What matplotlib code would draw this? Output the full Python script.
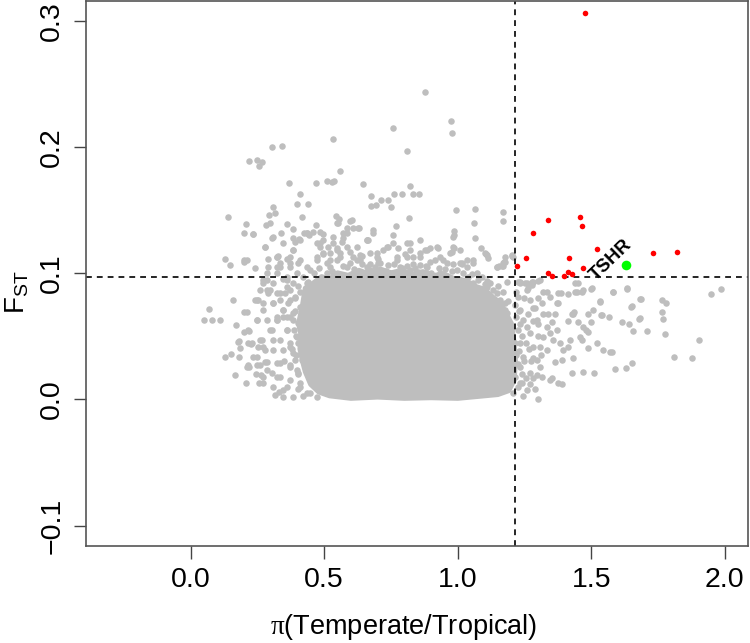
"""Fst vs pi ratio scatter (Temperate/Tropical) with TSHR highlighted."""
import numpy as np
import matplotlib
matplotlib.use("Agg")
import matplotlib.pyplot as plt

plt.rcParams["font.family"] = ["Liberation Sans", "DejaVu Sans"]
plt.rcParams["mathtext.fontset"] = "custom"
plt.rcParams["mathtext.rm"] = "Liberation Serif"

GRAY = "#BEBEBE"

# thresholds (dashed lines)
pi_cut = 1.2135
fst_cut = 0.0971

# solid core of the genome-wide cloud (outline)
core_x = [0.42, 0.43, 0.46, 0.49, 0.52, 0.55, 0.59, 0.63, 0.67, 0.71, 0.75, 0.79,
          0.83, 0.87, 0.91, 0.95, 0.99, 1.03, 1.07, 1.10, 1.13, 1.16, 1.18, 1.20,
          1.21, 1.215, 1.21, 1.19, 1.15, 1.10, 1.00, 0.90, 0.80, 0.70, 0.60, 0.52,
          0.48, 0.45, 0.43, 0.42, 0.41, 0.415, 0.405]
core_y = [0.075, 0.088, 0.092, 0.097, 0.095, 0.100, 0.098, 0.102, 0.099, 0.103, 0.100, 0.102,
          0.099, 0.101, 0.098, 0.099, 0.095, 0.094, 0.089, 0.087, 0.081, 0.076, 0.068, 0.060,
          0.045, 0.030, 0.015, 0.007, 0.004, 0.003, 0.001, 0.0015, 0.001, 0.002, 0.001, 0.003,
          0.006, 0.012, 0.022, 0.030, 0.040, 0.050, 0.060]

# background windows above the core
gray_upper = [
    (0.879, 0.2433), (0.974, 0.2205), (0.978, 0.211), (0.759, 0.2147), (0.532, 0.206), (0.809, 0.1965),
    (0.303, 0.200), (0.341, 0.2007), (0.217, 0.189), (0.250, 0.190), (0.268, 0.188), (0.257, 0.185),
    (0.368, 0.1716), (0.470, 0.1714), (0.560, 0.1807), (0.509, 0.173), (0.530, 0.172), (0.538, 0.173),
    (0.644, 0.1708), (0.821, 0.1688), (0.409, 0.1624), (0.399, 0.155), (0.440, 0.1545), (0.308, 0.152),
    (0.294, 0.146), (0.315, 0.148), (0.417, 0.1447), (0.140, 0.1447), (0.761, 0.163), (0.791, 0.1624),
    (0.833, 0.163), (0.855, 0.163), (0.675, 0.1613), (0.713, 0.158), (0.738, 0.158), (0.676, 0.153),
    (0.694, 0.154), (0.750, 0.1526), (0.995, 0.150), (1.066, 0.1505), (1.171, 0.1484), (1.171, 0.141),
    (1.060, 0.140), (1.066, 0.1276), (0.816, 0.144), (0.770, 0.137), (0.684, 0.134), (0.604, 0.142),
    (0.544, 0.145), (0.556, 0.143), (0.549, 0.140), (0.986, 0.133), (0.986, 0.130), (0.984, 0.1204),
    (0.665, 0.126), (0.494, 0.131), (1.105, 0.115), (1.112, 0.112), (1.172, 0.1088), (1.203, 0.1138),
    (1.015, 0.108), (0.208, 0.139), (0.281, 0.138), (0.296, 0.140), (0.360, 0.139), (0.469, 0.138),
    (0.201, 0.132), (0.234, 0.131), (0.338, 0.132), (0.384, 0.135), (0.303, 0.128), (0.424, 0.132),
    (0.442, 0.130), (0.278, 0.1204), (0.384, 0.118), (0.391, 0.125), (0.407, 0.127), (0.130, 0.1114),
    (0.147, 0.1067), (0.201, 0.110), (0.212, 0.110), (0.288, 0.111), (0.327, 0.1136), (0.360, 0.111),
    (0.372, 0.113), (0.241, 0.104), (0.597, 0.1415), (0.584, 0.1355), (0.609, 0.1355), (0.628, 0.1355),
    (0.572, 0.1276), (0.659, 0.126), (0.434, 0.1315), (0.459, 0.1328), (0.472, 0.1236), (0.497, 0.126),
    (0.515, 0.121), (0.409, 0.126), (0.384, 0.1276), (0.322, 0.113), (0.334, 0.105), (0.409, 0.1104),
    (0.434, 0.105), (0.472, 0.1104), (0.522, 0.105), (0.547, 0.1104), (0.584, 0.105), (0.622, 0.1104),
    (0.659, 0.105), (0.484, 0.121), (0.534, 0.1236), (0.496, 0.1157), (0.521, 0.1157), (0.546, 0.1183),
    (0.584, 0.121), (0.609, 0.113), (0.634, 0.1143), (0.671, 0.1157), (0.696, 0.113), (0.721, 0.1183),
    (0.759, 0.1236), (0.777, 0.1196), (0.809, 0.113), (0.821, 0.1183), (0.859, 0.1157), (0.884, 0.1183),
    (0.896, 0.1196), (0.927, 0.1196), (0.946, 0.1104), (0.977, 0.117), (1.008, 0.1077), (1.033, 0.105),
    (1.058, 0.1104), (0.571, 0.1315), (0.565, 0.125), (0.630, 0.1355), (0.553, 0.1394), (0.740, 0.121),
    (0.821, 0.124), (0.987, 0.1197), (1.102, 0.1157), (1.202, 0.1143), (1.156, 0.1056), (1.168, 0.1056),
    (1.086, 0.1197), (0.497, 0.1154), (0.521, 0.110), (0.559, 0.1127), (0.596, 0.1167), (0.640, 0.1132),
    (0.671, 0.1074), (0.702, 0.1114), (0.740, 0.1061), (0.771, 0.110), (0.802, 0.1154), (0.834, 0.1074),
    (0.859, 0.1127), (0.884, 0.1048), (0.915, 0.110), (0.952, 0.1035), (0.983, 0.1074), (1.015, 0.1074),
    (1.052, 0.0995), (1.077, 0.0942), (1.146, 0.1048), (1.164, 0.106), (1.183, 0.093), (1.102, 0.0916),
    (1.133, 0.0863), (1.158, 0.0784), (1.177, 0.0705), (0.46, 0.100), (0.53, 0.102), (0.61, 0.103),
    (0.66, 0.101), (0.73, 0.102), (0.79, 0.104), (0.85, 0.101), (0.90, 0.100), (0.96, 0.098),
    (1.02, 0.100), (1.09, 0.097), (1.12, 0.092), (0.44, 0.093),
    (0.434, 0.1316), (0.484, 0.1236), (0.534, 0.1289), (0.584, 0.1316), (0.622, 0.121), (0.659, 0.1263),
    (0.696, 0.1157), (0.734, 0.121), (0.771, 0.1131), (0.809, 0.1236), (0.834, 0.1131), (0.877, 0.1184),
    (0.921, 0.121), (0.959, 0.1078), (0.996, 0.1025), (1.034, 0.1104), (1.071, 0.0999), (1.108, 0.1144),
    (1.146, 0.1051), (1.177, 0.1091), (0.472, 0.1131), (0.509, 0.1078), (0.559, 0.1157), (0.597, 0.1078),
    (0.634, 0.1104), (0.671, 0.1025), (0.709, 0.1078), (0.746, 0.0999), (0.784, 0.1051), (0.821, 0.1025),
    (0.859, 0.1065), (0.896, 0.1091), (0.934, 0.1131), (0.971, 0.1157), (1.009, 0.1184), (1.058, 0.1078),
    (0.534, 0.0999), (0.597, 0.0972), (0.659, 0.0946), (0.959, 0.0972), (1.009, 0.0946), (1.058, 0.092),
    (1.108, 0.0893), (1.146, 0.084), (1.177, 0.0761), (0.497, 0.0946), (0.447, 0.1025), (0.403, 0.1078),
    (0.934, 0.0999), (0.884, 0.0999), (0.484, 0.1329), (0.547, 0.1197), (0.759, 0.1302), (0.684, 0.1316),
    (0.859, 0.1263), (0.984, 0.1289),
    (0.48, 0.104), (0.51, 0.100), (0.57, 0.106), (0.64, 0.107), (0.69, 0.105), (0.76, 0.107),
    (0.81, 0.106), (0.88, 0.106), (0.93, 0.104), (0.98, 0.102), (1.04, 0.097), (1.11, 0.094),
    (1.15, 0.090), (1.17, 0.085), (1.19, 0.078), (0.62, 0.100), (0.70, 0.108), (0.84, 0.104),
]

# background windows left of the core
gray_left = [
    (0.050, 0.0628), (0.079, 0.0628), (0.110, 0.0628), (0.070, 0.0716), (0.160, 0.0784), (0.198, 0.069),
    (0.171, 0.0586), (0.218, 0.054), (0.250, 0.0626), (0.182, 0.0464), (0.128, 0.0338), (0.152, 0.036),
    (0.181, 0.0333), (0.166, 0.0195), (0.208, 0.0127), (0.225, 0.0438), (0.245, 0.020), (0.263, 0.019),
    (0.257, 0.0127), (0.270, 0.0127), (0.315, 0.0034), (0.330, 0.0058), (0.26, 0.027), (0.218, 0.0258),
    (0.200, 0.0536), (0.216, 0.0444), (0.178, 0.0456), (0.185, 0.0404), (0.284, 0.0998), (0.272, 0.0919),
    (0.291, 0.084), (0.253, 0.0787), (0.272, 0.0708), (0.309, 0.076), (0.322, 0.0655), (0.303, 0.0549),
    (0.259, 0.047), (0.272, 0.0417), (0.309, 0.039), (0.334, 0.047), (0.247, 0.0338), (0.284, 0.0298),
    (0.322, 0.0285), (0.216, 0.0272), (0.303, 0.0206), (0.334, 0.018), (0.359, 0.0100), (0.384, 0.0021),
    (0.347, 0.0021), (0.359, 0.0549), (0.372, 0.0417), (0.353, 0.084), (0.359, 0.0972), (0.322, 0.1051),
    (0.372, 0.1077), (0.384, 0.0919), (0.347, 0.0655), (0.384, 0.0681), (0.390, 0.0311), (0.409, 0.0127),
    (0.434, 0.0047), (0.397, 0.0230), (0.272, 0.0945), (0.285, 0.0866), (0.247, 0.0787), (0.309, 0.0919),
    (0.322, 0.084), (0.360, 0.0892), (0.372, 0.0787), (0.347, 0.0708), (0.384, 0.0628), (0.322, 0.0628),
    (0.285, 0.0628), (0.39, 0.080), (0.395, 0.050), (0.38, 0.040), (0.40, 0.090), (0.41, 0.060),
    (0.37, 0.0275), (0.42, 0.097),
    (0.200, 0.109), (0.234, 0.131), (0.278, 0.1210), (0.322, 0.1131), (0.309, 0.129), (0.347, 0.1236),
    (0.384, 0.1184), (0.210, 0.0695), (0.247, 0.0629), (0.216, 0.055), (0.266, 0.0470), (0.253, 0.0418),
    (0.228, 0.0444), (0.278, 0.0391), (0.309, 0.0470), (0.297, 0.055), (0.322, 0.0629), (0.347, 0.0708),
    (0.309, 0.0761), (0.272, 0.0761), (0.297, 0.0867), (0.334, 0.084), (0.372, 0.0867), (0.259, 0.0867),
    (0.241, 0.0787), (0.284, 0.0946), (0.322, 0.0999), (0.359, 0.0946), (0.397, 0.0999), (0.372, 0.1051),
    (0.334, 0.1078), (0.291, 0.1051), (0.210, 0.0259), (0.247, 0.0272), (0.284, 0.0233), (0.322, 0.0180),
    (0.372, 0.0153), (0.409, 0.0101), (0.447, 0.0048), (0.347, 0.0074), (0.309, 0.0101), (0.272, 0.0180),
    (0.234, 0.0338), (0.278, 0.0299), (0.334, 0.0285), (0.372, 0.0259), (0.403, 0.0206), (0.347, 0.0391),
    (0.384, 0.0365), (0.416, 0.0312), (0.359, 0.055), (0.397, 0.0497), (0.403, 0.0602), (0.372, 0.0655),
    (0.409, 0.0735), (0.434, 0.0682), (0.441, 0.055), (0.434, 0.0418), (0.428, 0.0814), (0.434, 0.092),
    (0.391, 0.0814), (0.441, 0.0233), (0.453, 0.0127), (0.472, 0.0021), (0.509, 0.0048), (0.559, 0.0035),
    (0.334, 0.0787), (0.372, 0.0444),
    (0.39, 0.070), (0.40, 0.045), (0.395, 0.035), (0.40, 0.020), (0.385, 0.055), (0.41, 0.085),
    (0.36, 0.065), (0.35, 0.030), (0.365, 0.076), (0.345, 0.095), (0.40, 0.008), (0.42, 0.003),
]

# background windows right of the core
gray_right = [
    (1.949, 0.0837), (1.986, 0.0876), (1.904, 0.047), (1.808, 0.0338), (1.877, 0.033), (1.764, 0.0787),
    (1.779, 0.0763), (1.766, 0.069), (1.770, 0.0634), (1.775, 0.0517), (1.684, 0.0792), (1.649, 0.0734),
    (1.635, 0.0876), (1.582, 0.0853), (1.679, 0.064), (1.643, 0.0597), (1.658, 0.0539), (1.708, 0.054),
    (1.654, 0.0285), (1.629, 0.025), (1.589, 0.0243), (1.566, 0.0655), (1.536, 0.067), (1.532, 0.0777),
    (1.506, 0.0705), (1.499, 0.0613), (1.47, 0.0576), (1.48, 0.055), (1.488, 0.0536), (1.52, 0.045),
    (1.489, 0.0404), (1.544, 0.039), (1.570, 0.0377), (1.579, 0.0377), (1.509, 0.0206), (1.47, 0.0216),
    (1.427, 0.0206), (1.389, 0.0119), (1.352, 0.0171), (1.467, 0.085), (1.499, 0.0876), (1.439, 0.0848),
    (1.449, 0.0919), (1.386, 0.084), (1.414, 0.0832), (1.427, 0.068), (1.436, 0.0694), (1.452, 0.0613),
    (1.414, 0.062), (1.421, 0.047), (1.458, 0.0496), (1.464, 0.047), (1.433, 0.0325), (1.412, 0.0417),
    (1.383, 0.0444), (1.396, 0.039), (1.377, 0.076), (1.364, 0.068), (1.352, 0.0615), (1.346, 0.0813),
    (1.321, 0.0853), (1.30, 0.094), (1.277, 0.0927), (1.233, 0.0932), (1.371, 0.055), (1.346, 0.0523),
    (1.358, 0.047), (1.32, 0.0496), (1.308, 0.0417), (1.333, 0.039), (1.315, 0.0179), (1.296, 0.0193),
    (1.283, 0.0325), (1.389, 0.0311), (1.364, 0.0298), (1.302, 0.0005), (1.24, 0.0127), (1.233, 0.0919),
    (1.258, 0.0866), (1.227, 0.0813), (1.270, 0.0787), (1.233, 0.0708), (1.283, 0.0721), (1.245, 0.0628),
    (1.295, 0.0628), (1.227, 0.0549), (1.270, 0.0523), (1.233, 0.0443), (1.283, 0.0417), (1.245, 0.0338),
    (1.295, 0.0311), (1.233, 0.0259), (1.270, 0.0206), (1.233, 0.0127), (1.258, 0.0074), (1.320, 0.068),
    (1.333, 0.0576), (1.314, 0.076), (1.283, 0.0166), (1.345, 0.0153), (1.376, 0.0127), (1.308, 0.0259),
    (1.252, 0.0919), (1.283, 0.0932), (1.170, 0.1077), (1.208, 0.113), (1.177, 0.113), (1.227, 0.0932),
    (1.258, 0.0919), (1.277, 0.0906), (1.308, 0.0945), (1.333, 0.0853), (1.377, 0.084), (1.439, 0.0919),
    (1.446, 0.0853), (1.470, 0.0866), (1.502, 0.088), (1.533, 0.0773), (1.583, 0.0853), (1.635, 0.088),
    (1.685, 0.0792), (1.652, 0.0739), (1.683, 0.0642), (1.614, 0.0615), (1.539, 0.0668), (1.489, 0.068),
    (1.433, 0.068), (1.339, 0.068), (1.371, 0.076), (1.215, 0.075), (1.22, 0.065), (1.215, 0.045),
    (1.22, 0.035), (1.215, 0.018), (1.22, 0.085), (1.25, 0.080), (1.26, 0.057), (1.25, 0.030),
    (1.265, 0.040), (1.24, 0.050), (1.28, 0.062), (1.30, 0.080), (1.30, 0.050), (1.27, 0.012),
    (1.245, 0.003), (1.183, 0.0682), (1.171, 0.055), (1.183, 0.0418), (1.177, 0.0285), (1.190, 0.0153),
    (1.171, 0.0074), (1.208, 0.0048), (1.158, 0.0629),
    (1.228, 0.070), (1.235, 0.060), (1.228, 0.038), (1.240, 0.020), (1.226, 0.010), (1.255, 0.045),
    (1.262, 0.068), (1.275, 0.030), (1.290, 0.072), (1.300, 0.060), (1.310, 0.035), (1.262, 0.088),
    (1.225, 0.028), (1.255, 0.017), (1.290, 0.008),
]

# outlier windows (both thresholds exceeded)
red_x = [1.478, 1.338, 1.457, 1.467, 1.281, 1.522, 1.733, 1.820, 1.255,
         1.418, 1.223, 1.469, 1.339, 1.354, 1.399, 1.414, 1.429]
red_y = [0.3059, 0.1421, 0.1442, 0.1371, 0.1315, 0.1191, 0.1157, 0.1170, 0.1117,
         0.1122, 0.1059, 0.1038, 0.1001, 0.0975, 0.0980, 0.1006, 0.0990]

tshr_x, tshr_y = 1.629, 0.1064

fig = plt.figure(figsize=(7.5, 6.43), dpi=100)
ax = fig.add_axes([0.1147, 0.1513, 0.883, 0.8471])

ax.fill(core_x, core_y, color=GRAY, lw=4, joinstyle="round", zorder=1)
for grp in (gray_upper, gray_left, gray_right):
    pts = np.array(grp)
    ax.scatter(pts[:, 0], pts[:, 1], s=22, color=GRAY, lw=0, zorder=1)

ax.axhline(fst_cut, color="black", lw=1.2, ls=(0, (3.5, 3)), zorder=2)
ax.axvline(pi_cut, color="black", lw=1.2, ls=(0, (3.5, 3)), zorder=2)

ax.scatter(red_x, red_y, s=16, color="#FF0000", lw=0, zorder=3)
ax.scatter([tshr_x], [tshr_y], s=48, color="#00FF00", lw=0, zorder=4)
ax.text(1.573, 0.1101, "TSHR", fontsize=13.5, fontweight="bold", rotation=44,
        ha="center", va="center", rotation_mode="anchor", zorder=5)

ax.set_xlim(-0.392, 2.088)
ax.set_ylim(-0.116, 0.3156)
ax.set_xticks([0.0, 0.5, 1.0, 1.5, 2.0])
ax.set_xticklabels(["0.0", "0.5", "1.0", "1.5", "2.0"])
ax.set_yticks([-0.1, 0.0, 0.1, 0.2, 0.3])
ax.set_yticklabels(["\u22120.1", "0.0", "0.1", "0.2", "0.3"], rotation=90, va="center")
ax.tick_params(direction="out", length=9, width=1, color="#444444", labelsize=20.5, pad=6)

for sp in ax.spines.values():
    sp.set_color("#555555")
    sp.set_linewidth(1.2)

ax.set_xlabel(r"$\mathrm{\pi}$(Temperate/Tropical)", fontsize=19.5)
ax.xaxis.set_label_coords(0.480, -0.122)
ax.set_ylabel(r"F$_{\mathregular{ST}}$", fontsize=20)
ax.yaxis.set_label_coords(-0.083, 0.466)

plt.savefig("out.png", dpi=100)
plt.close()
